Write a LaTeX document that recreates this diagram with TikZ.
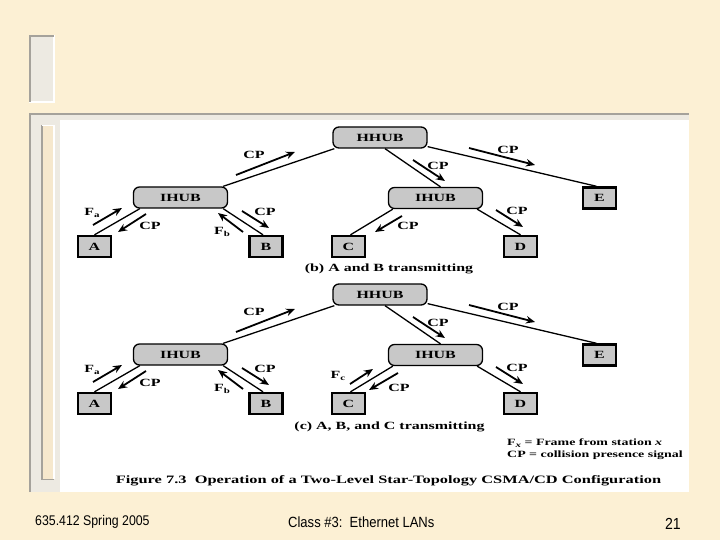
\documentclass[tikz,border=0pt]{standalone}
\usepackage{fontspec}
\usetikzlibrary{arrows.meta}
\newfontfamily\figfont[FakeStretch=1.45]{Liberation Serif}
\newfontfamily\footfont[FakeStretch=0.88]{Liberation Sans}
\definecolor{parch}{RGB}{252,240,212}
\definecolor{paneg}{RGB}{237,234,226}
\definecolor{edgeg}{RGB}{165,162,155}
\definecolor{hubgray}{RGB}{200,200,200}
\definecolor{stripb}{RGB}{246,232,205}
\newcommand\lowsub[1]{\raisebox{-0.45ex}{\fontsize{7.5}{8}\selectfont #1}}
\newcommand\figtxt{\figfont\bfseries\fontsize{11}{12}\selectfont}
\tikzset{
  hub/.style={draw, line width=1.3pt, rounded corners=6pt, fill=hubgray,
    minimum width=94pt, minimum height=21pt, inner sep=0pt, font=\figtxt},
  sta/.style={draw, line width=2.4pt, fill=hubgray, minimum width=33pt,
    minimum height=21pt, inner sep=0pt, font=\figtxt},
  link/.style={line width=1.3pt},
  sig/.style={line width=1.8pt, -{Stealth[length=9pt,width=7.5pt]}},
  lab/.style={font=\figtxt, inner sep=0pt},
}
\newcommand\commonpanel{%
  \node[hub] (hh) at (380,137.5) {HHUB};
  \node[hub] (ihL) at (180.5,197.5) {IHUB};
  \node[hub] (ihR) at (435.5,198) {IHUB};
  \node[sta] (A) at (94.5,246.5) {A};
  \node[sta] (B) at (266,246.5) {B};
  \node[sta] (C) at (348.5,246.5) {C};
  \node[sta] (D) at (520.5,246.5) {D};
  \node[sta] (E) at (599.5,198) {E};
  \draw[link] ([xshift=2pt]hh.south west) -- ([xshift=-5pt]ihL.north east);
  \draw[link] ([xshift=5pt]hh.south) -- ([xshift=5pt]ihR.north);
  \draw[link] ([yshift=2pt]hh.south east) -- ([xshift=-3pt]E.north);
  \draw[link] ([xshift=7pt]ihL.south west) -- (A.north);
  \draw[link] ([xshift=-5pt]ihL.south east) -- ([xshift=-3pt]B.north);
  \draw[link] ([xshift=5pt]ihR.south west) -- ([xshift=2pt]C.north);
  \draw[link] ([xshift=-6pt]ihR.south east) -- (D.north);
  \draw[sig] (236,175) -- (295,152);
  \draw[sig] (413,160) -- (445,181);
  \draw[sig] (469,148) -- (535,165);
  \draw[sig] (93,225) -- (122,208);
  \draw[sig] (146,214) -- (118,232);
  \draw[sig] (243,232) -- (218,213);
  \draw[sig] (242,211) -- (269,228);
  \draw[sig] (496,210) -- (523,227);
  \node[lab] (l1) at (254,155) {CP};
  \node[lab] (l2) at (438,166) {CP};
  \node[lab] (l3) at (508,150) {CP};
  \node[lab] (l4) at (92,213) {F\lowsub{a}};
  \node[lab] (l5) at (150,226) {CP};
  \node[lab] (l6) at (222,232) {F\lowsub{b}};
  \node[lab] (l7) at (265,212) {CP};
  \node[lab] (l8) at (517,211) {CP};
}
\begin{document}
\begin{tikzpicture}[x=1pt,y=-1pt]
\useasboundingbox (0,0) rectangle (720,540);
\fill[parch] (0,0) rectangle (720,540);
% small top-left panel
\fill[paneg] (29,35) rectangle (54,102);
\draw[white, line width=1.5pt] (29,102) -- (54,102) -- (54,35);
\draw[edgeg, line width=2pt] (30,102) -- (30,36) -- (54,36);
% picture frame
\fill[paneg] (29,113) rectangle (689,492);
\fill[white] (60,120) rectangle (689,492);
\draw[edgeg, line width=2.5pt] (30,492) -- (30,114.2) -- (689,114.2);
\fill[stripb] (41,125) rectangle (54,480);
\draw[edgeg, line width=1.5pt] (42,125) -- (42,479.5) -- (54,479.5);
\draw[white, line width=1.2pt] (42,125.5) -- (54,125.5) -- (54,479);
% panel (b)
\begin{scope}[name prefix=b-]
  \commonpanel
  \draw[sig] (402,216) -- (375,232);
  \node[lab] (l9) at (408,226) {CP};
  \node[lab] (cap) at (389,269) {(b) A and B transmitting};
\end{scope}
% panel (c)
\begin{scope}[shift={(0,157)}, name prefix=c-]
  \commonpanel
  \draw[sig] (350,227) -- (373,212);
  \draw[sig] (398,216) -- (369,233);
  \node[lab] (l9) at (338,219) {F\lowsub{c}};
  \node[lab] (l10) at (399,231) {CP};
  \node[lab] (cap) at (389.5,270) {(c) A, B, and C transmitting};
\end{scope}
% legend and caption
\node[lab, anchor=west, font=\figfont\bfseries\fontsize{9.6}{11}\selectfont] (leg1) at (507,443) {F\lowsub{\itshape x} = Frame from station \textit{x}};
\node[lab, anchor=west, font=\figfont\bfseries\fontsize{9.6}{11}\selectfont] (leg2) at (507,455) {CP = collision presence signal};
\node[lab, font=\figfont\bfseries\fontsize{11.3}{13}\selectfont] (fig) at (388.5,481) {Figure 7.3\ \ Operation of a Two-Level Star-Topology CSMA/CD Configuration};
% footer
\node[anchor=west, inner sep=0pt, font=\footfont\fontsize{14}{16}\selectfont] (f1) at (35,522) {635.412 Spring 2005};
\node[anchor=west, inner sep=0pt, font=\footfont\fontsize{14.8}{16}\selectfont] (f2) at (288,522) {Class \#3:\ \ Ethernet LANs};
\node[anchor=east, inner sep=0pt, font=\footfont\fontsize{16}{18}\selectfont] (f3) at (681,524) {21};
\end{tikzpicture}
\end{document}
